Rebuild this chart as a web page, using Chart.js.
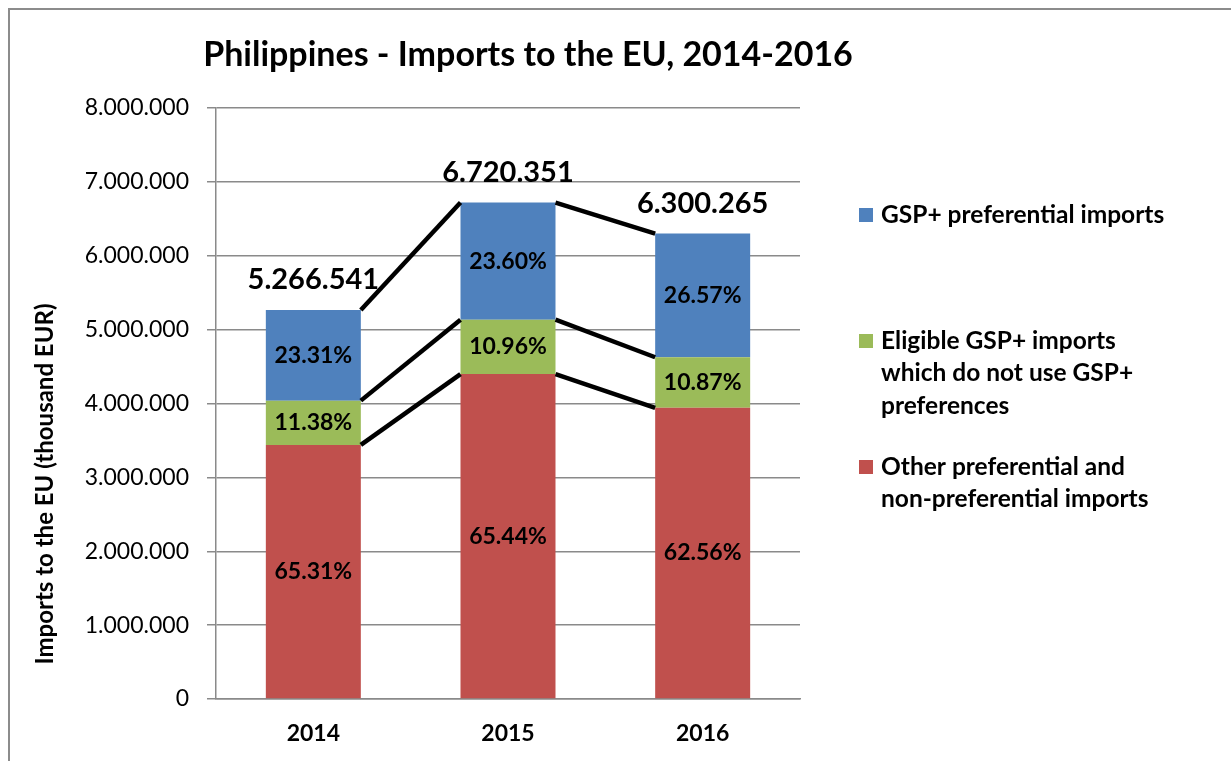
<!DOCTYPE html>
<html>
<head>
<meta charset="utf-8">
<script src="https://cdn.jsdelivr.net/npm/chart.js@4/dist/chart.umd.min.js"></script>
<style>
  html, body { margin: 0; padding: 0; background: #fff; }
  #wrap { position: relative; width: 1231px; height: 761px; overflow: hidden; }
  #frame {
    position: absolute; left: 8px; top: 8px; width: 1240px; height: 770px;
    border-left: 2px solid #8c8c8c; border-top: 2px solid #8c8c8c;
  }
  canvas { position: absolute; left: 0; top: 0; }
</style>
</head>
<body>
<div id="wrap">
  <div id="frame"></div>
  <canvas id="importsChart" width="1231" height="761"></canvas>
</div>
<script>
// === Chart data (thousand EUR) ===
const years = ["2014", "2015", "2016"];
const totals = [5266541, 6720351, 6300265];

const otherImports = [3439578, 4397798, 3941446];
const eligibleImports = [599332, 736550, 684839];
const gspImports = [1227631, 1586003, 1673980];

const otherShare = ["65.31%", "65.44%", "62.56%"];
const eligibleShare = ["11.38%", "10.96%", "10.87%"];
const gspShare = ["23.31%", "23.60%", "26.57%"];

const yTicks = [0, 1000000, 2000000, 3000000, 4000000, 5000000, 6000000, 7000000, 8000000];

const FONT = "Lato, 'Open Sans', sans-serif";

// dots as thousand separators, like the original
function fmt(n) {
  return String(n).replace(/\B(?=(\d{3})+(?!\d))/g, ".");
}

// === Plugin: series lines, labels, legend and titles ===
const decorations = {
  id: "decorations",
  afterDatasetsDraw(chart) {
    const ctx = chart.ctx;
    const metas = chart.data.datasets.map((d, i) => chart.getDatasetMeta(i));

    // series lines between the stacks (top of every segment)
    ctx.save();
    ctx.strokeStyle = "#000";
    ctx.lineWidth = 4.5;
    metas.forEach((meta) => {
      for (let i = 0; i < meta.data.length - 1; i++) {
        const a = meta.data[i];
        const b = meta.data[i + 1];
        ctx.beginPath();
        ctx.moveTo(a.x + a.width / 2, a.y);
        ctx.lineTo(b.x - b.width / 2, b.y);
        ctx.stroke();
      }
    });
    ctx.restore();

    // percentages in the segments
    ctx.save();
    ctx.fillStyle = "#000";
    ctx.textAlign = "center";
    ctx.textBaseline = "middle";
    ctx.font = "bold 23px " + FONT;
    chart.data.datasets.forEach((ds, di) => {
      metas[di].data.forEach((bar, i) => {
        ctx.fillText(ds.shares[i], bar.x, (bar.y + bar.base) / 2);
      });
    });

    // totals above the bars
    ctx.font = "bold 29px " + FONT;
    ctx.textBaseline = "alphabetic";
    const topMeta = metas[metas.length - 1];
    topMeta.data.forEach((bar, i) => {
      ctx.fillText(fmt(totals[i]), bar.x, bar.y - 21);
    });
    ctx.restore();

    // title
    ctx.save();
    ctx.fillStyle = "#000";
    ctx.font = "bold 34px " + FONT;
    ctx.textAlign = "center";
    ctx.textBaseline = "middle";
    ctx.fillText("Philippines - Imports to the EU, 2014-2016", 528, 55);

    // y axis title
    ctx.translate(45, 484);
    ctx.rotate(-Math.PI / 2);
    ctx.font = "bold 24px " + FONT;
    ctx.fillText("Imports to the EU (thousand EUR)", 0, 0);
    ctx.restore();

    // legend on the right, top series first
    ctx.save();
    ctx.font = "bold 24.5px " + FONT;
    ctx.textAlign = "left";
    ctx.textBaseline = "middle";
    const legendX = 859;
    const legendItems = [
      { ds: 2, y: 215 },
      { ds: 1, y: 341 },
      { ds: 0, y: 467 },
    ];
    legendItems.forEach((item) => {
      const ds = chart.data.datasets[item.ds];
      ctx.fillStyle = ds.backgroundColor;
      ctx.fillRect(legendX, item.y - 7, 14, 14);
      ctx.fillStyle = "#000";
      ds.legendLines.forEach((line, k) => {
        ctx.fillText(line, legendX + 22, item.y + k * 32.5);
      });
    });
    ctx.restore();
  },
};

// === Build the chart ===
const ctx = document.getElementById("importsChart").getContext("2d");

new Chart(ctx, {
  type: "bar",
  data: {
    labels: years,
    datasets: [
      {
        label: "Other preferential and non-preferential imports",
        legendLines: ["Other preferential and", "non-preferential imports"],
        data: otherImports,
        shares: otherShare,
        backgroundColor: "#C0504D",
      },
      {
        label: "Eligible GSP+ imports which do not use GSP+ preferences",
        legendLines: ["Eligible GSP+ imports", "which do not use GSP+", "preferences"],
        data: eligibleImports,
        shares: eligibleShare,
        backgroundColor: "#9BBB59",
      },
      {
        label: "GSP+ preferential imports",
        legendLines: ["GSP+ preferential imports"],
        data: gspImports,
        shares: gspShare,
        backgroundColor: "#4F81BD",
      },
    ],
  },
  options: {
    responsive: false,
    animation: false,
    layout: { padding: { left: 0, top: 108, right: 431, bottom: 0 } },
    datasets: {
      bar: { barPercentage: 0.488, categoryPercentage: 1 },
    },
    scales: {
      x: {
        stacked: true,
        grid: { display: false },
        border: { display: true, color: "#8a8a8a", width: 1.5 },
        ticks: {
          color: "#000",
          padding: 13,
          font: { family: FONT, size: 23, weight: "bold" },
        },
        afterFit: (scale) => {
          scale.height = 62;
        },
      },
      y: {
        stacked: true,
        min: 0,
        max: 8000000,
        afterBuildTicks: (scale) => {
          scale.ticks = yTicks.map((v) => ({ value: v }));
        },
        grid: { color: "#8a8a8a", lineWidth: 1.5, tickLength: 9 },
        border: { display: true, color: "#8a8a8a", width: 1.5 },
        ticks: {
          color: "#000",
          padding: 18,
          font: { family: FONT, size: 23 },
          callback: (v) => fmt(v),
        },
        afterFit: (scale) => {
          scale.width = 216;
        },
      },
    },
    plugins: {
      legend: { display: false },
      title: { display: false },
      tooltip: { enabled: false },
    },
  },
  plugins: [decorations],
});
</script>
</body>
</html>
